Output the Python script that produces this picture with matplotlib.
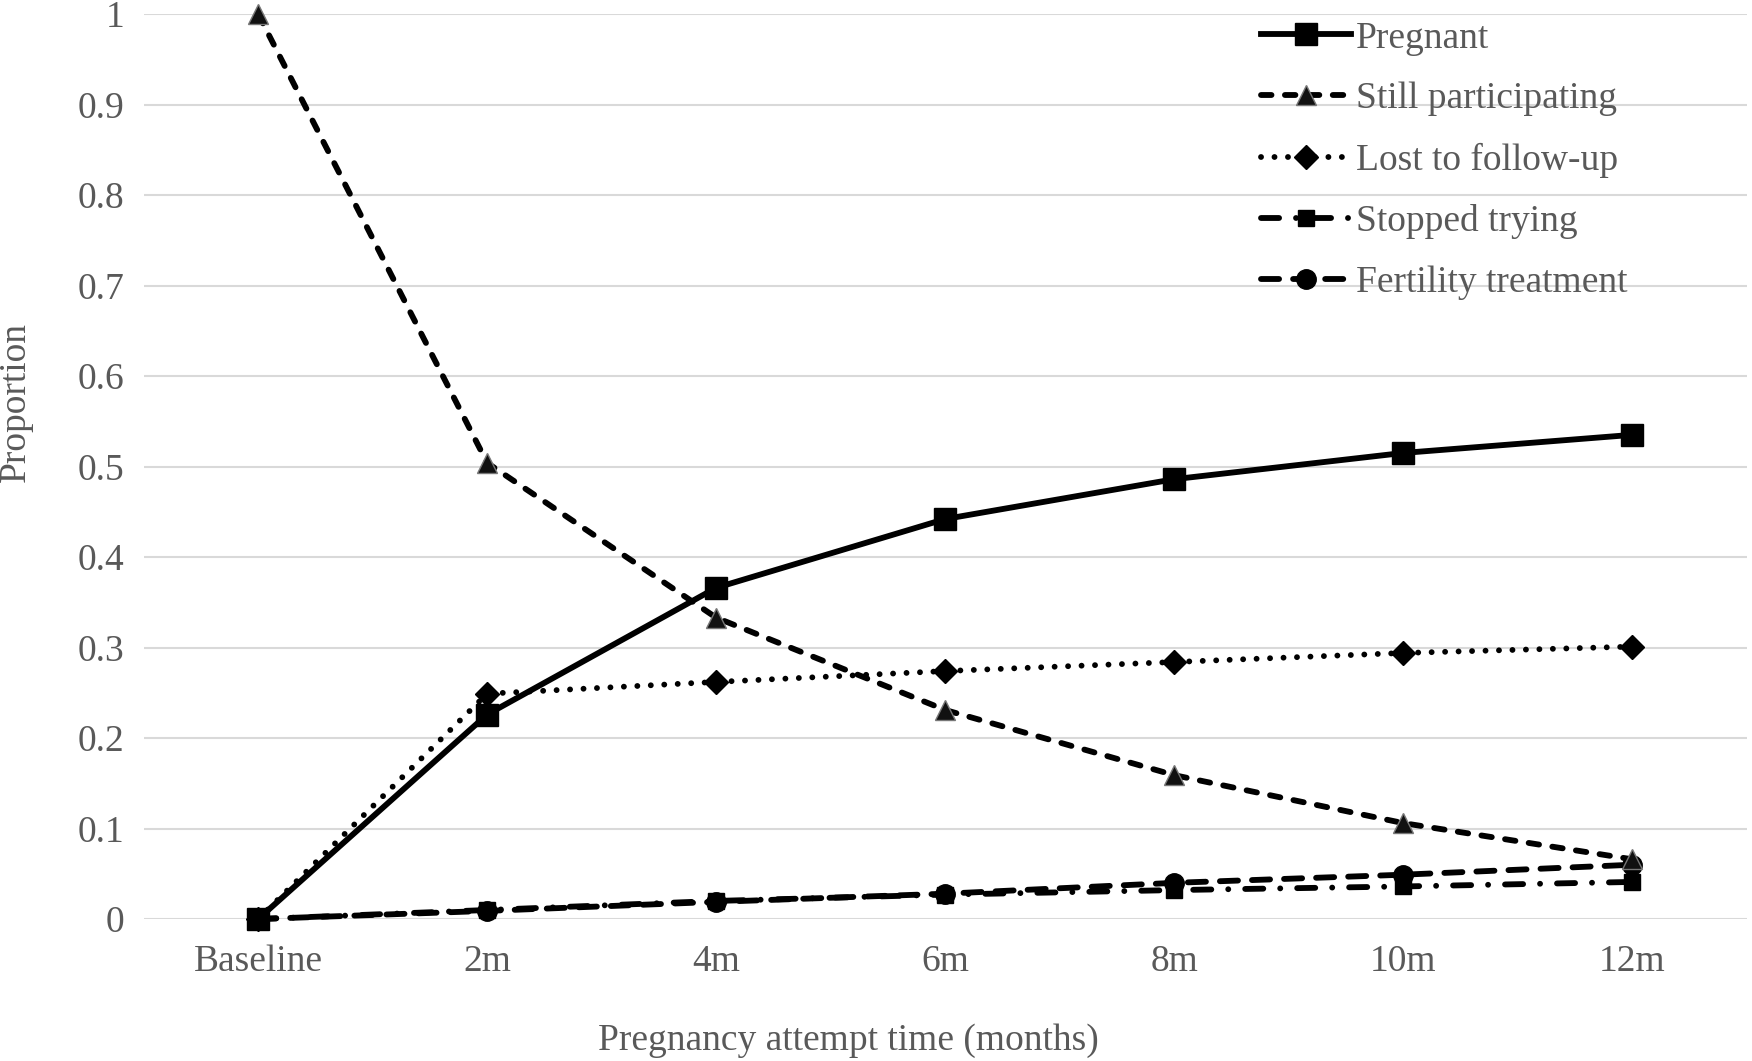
import numpy as np
import matplotlib
matplotlib.use("Agg")
from matplotlib import pyplot as plt

# data
months = ["Baseline", "2m", "4m", "6m", "8m", "10m", "12m"]
pregnant = [0.0, 0.226, 0.366, 0.442, 0.486, 0.515, 0.535]
still_participating = [1.0, 0.504, 0.333, 0.231, 0.159, 0.106, 0.066]
lost_followup = [0.0, 0.249, 0.262, 0.274, 0.284, 0.294, 0.301]
stopped_trying = [0.0, 0.010, 0.020, 0.027, 0.032, 0.036, 0.041]
fertility_treatment = [0.0, 0.009, 0.019, 0.028, 0.040, 0.049, 0.060]

plt.rcParams['font.family'] = ['Liberation Serif', 'DejaVu Serif']
grey = '#595959'
fs = 27

fig = plt.figure(figsize=(17.52, 10.61), dpi=100)
ax = fig.add_axes([0.082, 0.1338, 0.915, 0.853])

x = np.arange(len(months))
lw = 4.2
ax.plot(x, pregnant, color='black', lw=lw, marker='s', ms=16,
        label='Pregnant', clip_on=False, zorder=5)
ax.plot(x, still_participating, color='black', lw=lw, dashes=(1.8, 2.3),
        dash_capstyle='round', marker='^', ms=14, mfc='#111111', mec='#777777',
        mew=1, label='Still participating', clip_on=False, zorder=4)
ax.plot(x, lost_followup, color='black', lw=lw, dashes=(0.01, 2.3),
        dash_capstyle='round', marker='D', ms=12,
        label='Lost to follow-up', clip_on=False, zorder=4)
ax.plot(x, stopped_trying, color='black', lw=lw, dashes=(3.1, 2.9, 0.01, 2.9),
        dash_capstyle='round', marker='s', ms=11,
        label='Stopped trying', clip_on=False, zorder=3)
ax.plot(x, fertility_treatment, color='black', lw=lw, dashes=(3.1, 2.4),
        dash_capstyle='round', marker='o', ms=14,
        label='Fertility treatment', clip_on=False, zorder=3)

ax.set_xlim(-0.5, len(months) - 0.5)
ax.set_ylim(0, 1)
ax.set_xticks(x)
ax.set_xticklabels(months)
yt = np.round(np.arange(0, 1.01, 0.1), 1)
ax.set_yticks(yt)
ax.set_yticklabels(["%g" % v for v in yt])
ax.tick_params(axis='both', length=0, labelsize=fs, colors=grey)
ax.tick_params(axis='x', pad=18)
ax.tick_params(axis='y', pad=14)
ax.grid(axis='y', color='#d9d9d9', lw=1.5)
ax.set_axisbelow(True)
for s in ax.spines.values():
    s.set_visible(False)

fig.text(848 / 1752, 1 - 1041 / 1061, "Pregnancy attempt time (months)",
         fontsize=fs, color=grey, ha='center', va='center')
fig.text(16 / 1752, 1 - 402 / 1061, "Proportion", rotation=90,
         fontsize=fs, color=grey, ha='center', va='center')

leg = ax.legend(loc='upper left', bbox_to_anchor=(1246 / 1752, 1 - 6 / 1061),
                bbox_transform=fig.transFigure, frameon=False, fontsize=fs,
                handlelength=2.4, handletextpad=0.12, labelspacing=0.7,
                borderaxespad=0)
for t in leg.get_texts():
    t.set_color(grey)

fig.savefig("out.png", dpi=100)
